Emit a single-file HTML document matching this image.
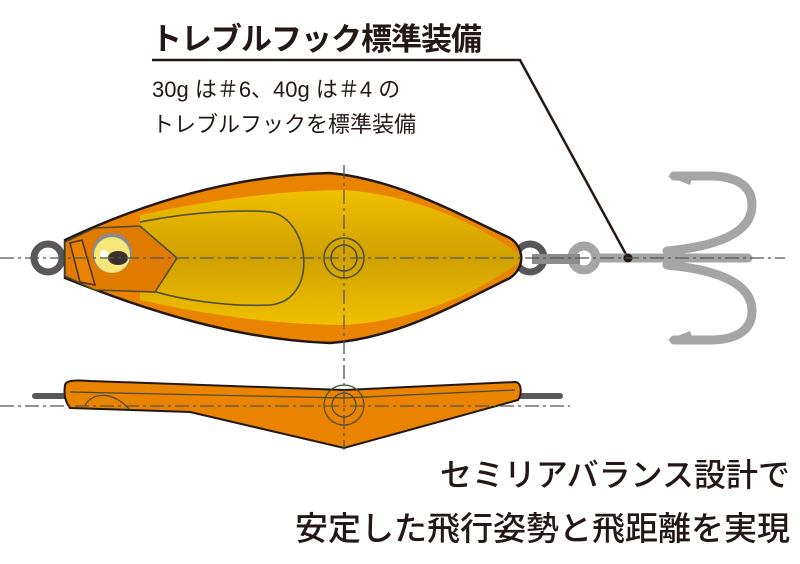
<!DOCTYPE html><html><head><meta charset="utf-8"><style>
body{margin:0;background:#fff;width:800px;height:564px;overflow:hidden;position:relative;font-family:"Liberation Sans","Noto Sans CJK JP",sans-serif}
.t{position:absolute;white-space:nowrap;color:#231815}
</style></head><body>
<svg width="800" height="564" style="position:absolute;left:0;top:0">
<defs>
<linearGradient id="g" x1="0" y1="0" x2="0" y2="1"><stop offset="0" stop-color="#f0c000"/><stop offset=".5" stop-color="#d0a000"/><stop offset="1" stop-color="#f0c000"/></linearGradient>
<clipPath id="bc"><path d="M65,240 C150,200 240,175 330,173 C400,180 460,215 510,238 C525,248 525,268 510,278 C460,302 400,338 330,343 C240,340 150,312 65,278 Z"/></clipPath>
</defs>
<polyline points="152,60 520,60 628,258" fill="none" stroke="#231815" stroke-width="2.5"/>
<circle cx="48" cy="258" r="14" fill="none" stroke="#595757" stroke-width="7"/>
<circle cx="530" cy="258" r="14" fill="none" stroke="#595757" stroke-width="7"/>
<g fill="none" stroke="#a5a5a5" stroke-width="9" stroke-linecap="round">
<circle cx="584" cy="258" r="12"/>
<line x1="596" y1="258" x2="748" y2="258"/>
<path d="M667,251 C720,246 752,232 752,205 C752,185 735,176 710,176 L674,176"/>
<path d="M667,265 C720,270 752,284 752,311 C752,331 735,340 710,340 L674,340"/>
</g>
<path d="M667,176 L694,172 L690,185 Z M667,340 L694,344 L690,331 Z" fill="#a5a5a5"/>
<rect x="532" y="254" width="48" height="10" fill="#8c8c8c"/>
<circle cx="628" cy="258" r="4.5" fill="#231815"/>
<path d="M65,240 C150,200 240,175 330,173 C400,180 460,215 510,238 C525,248 525,268 510,278 C460,302 400,338 330,343 C240,340 150,312 65,278 Z" fill="#e98300"/>
<path clip-path="url(#bc)" d="M140,215 C220,198 290,190 345,190 C420,196 480,225 525,258 C480,292 420,320 345,325 C290,325 220,318 140,300 Z" fill="url(#g)"/>
<path d="M65,240 C150,200 240,175 330,173 C400,180 460,215 510,238 C525,248 525,268 510,278 C460,302 400,338 330,343 C240,340 150,312 65,278 Z" fill="none" stroke="#231815" stroke-width="2.5"/>
<path d="M140,222 C200,210 250,210 270,212 C310,218 320,300 270,305 C230,307 180,300 150,290" fill="none" stroke="#4a4a2a" stroke-width="1.5"/>
<path d="M65,242 L95,228 L140,226 L177,258 L155,292 L95,290 L65,276 Z" fill="#e07a00" stroke="#4a4a2a" stroke-width="1.5"/>
<path d="M70,243 L82,240 L95,285 L80,282 Z" fill="#e98300" stroke="#4a3020" stroke-width="1.5"/>
<circle cx="112" cy="253" r="20" fill="#8a8a8a"/><circle cx="112" cy="255" r="18" fill="#f5e77a"/>
<ellipse cx="118" cy="258" rx="10" ry="7" fill="#3a3030"/><circle cx="104" cy="254" r="4" fill="#fff"/>
<circle cx="344" cy="258" r="20" fill="none" stroke="#4a4a2a" stroke-width="1.5"/>
<circle cx="344" cy="258" r="13" fill="none" stroke="#4a4a2a" stroke-width="1.5"/>
<line x1="35" y1="396" x2="560" y2="396" stroke="#595757" stroke-width="6" stroke-linecap="round"/>
<path d="M65,385 C66,380 75,380 90,381 L344,390 L515,382 C522,382 522,395 518,400 L344,448 L190,412 L70,408 C64,400 64,392 65,385 Z" fill="#e98300" stroke="#231815" stroke-width="2"/>
<path d="M70,392 L344,398 L515,390 M85,405 C95,390 115,393 130,410" fill="none" stroke="#4a4a2a" stroke-width="1.2"/>
<circle cx="344" cy="405" r="20" fill="none" stroke="#4a4a2a" stroke-width="1.2"/>
<circle cx="344" cy="405" r="12" fill="none" stroke="#4a4a2a" stroke-width="1.2"/>
<g stroke="#555" stroke-width="1.3" stroke-dasharray="14,4,3,4" fill="none">
<line x1="0" y1="258" x2="785" y2="258"/>
<line x1="0" y1="406" x2="570" y2="406"/>
<line x1="344" y1="165" x2="344" y2="450"/>
</g>
</svg>
<div class="t" style="left:151px;top:14px;font-size:31px;font-weight:bold;letter-spacing:-1px">トレブルフック標準装備</div>
<div class="t" style="left:152px;top:72px;font-size:22px;line-height:35px">30g は＃6、40g は＃4 の<br>トレブルフックを標準装備</div>
<div class="t" style="right:10px;top:450px;font-size:32px;font-weight:500">セミリアバランス設計で</div>
<div class="t" style="right:10px;top:502px;font-size:33px;font-weight:500;letter-spacing:0px">安定した飛行姿勢と飛距離を実現</div>
</body></html>
